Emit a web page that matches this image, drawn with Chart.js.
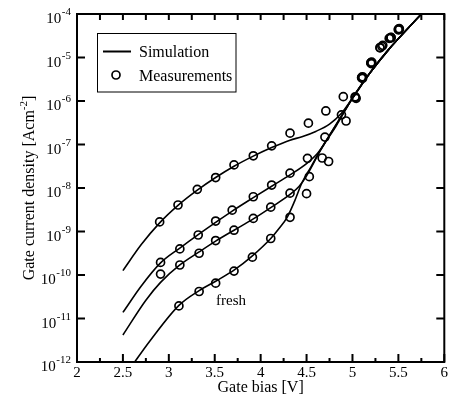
<!DOCTYPE html>
<html>
<head>
<meta charset="utf-8">
<title>Gate current density vs gate bias</title>
<script src="https://cdn.jsdelivr.net/npm/chart.js@4.4.1/dist/chart.umd.min.js"></script>
<style>
  html, body { margin: 0; padding: 0; background: #fff; }
  #wrap { width: 450px; height: 399px; }
</style>
</head>
<body>
<div id="wrap"><canvas id="gateChart" width="450" height="399"></canvas></div>
<script>
// axis ticks
const xMajorTicks = [2, 2.5, 3, 3.5, 4, 4.5, 5, 5.5, 6];
const xMinorTicks = [2.25, 2.75, 3.25, 3.75, 4.25, 4.75, 5.25, 5.75];
const yDecades = [-12, -11, -10, -9, -8, -7, -6, -5, -4];

// simulated curves (gate bias [V], current density [A/cm^2])
const simStress3V = [2.50, 2.70, 2.90, 3.10, 3.31, 3.51, 3.71, 3.92, 4.12, 4.32, 4.45, 4.60, 4.75, 4.88, 5.00, 5.20, 5.40, 5.60, 5.76];
const simStress3J = [1.26e-10, 5.0e-10, 1.58e-9, 3.98e-9, 8.9e-9, 1.74e-8, 3.16e-8, 5.4e-8, 8.5e-8, 1.26e-7, 1.51e-7, 2.0e-7, 2.95e-7, 5.25e-7, 1.17e-6, 4.68e-6, 1.58e-5, 4.57e-5, 1.05e-4];

const simStress2V = [2.50, 2.70, 2.91, 3.12, 3.32, 3.51, 3.69, 3.92, 4.12, 4.32, 4.51, 4.62, 4.72, 4.82, 5.00, 5.20, 5.40, 5.60, 5.76];
const simStress2J = [1.38e-11, 5.6e-11, 1.9e-10, 4.17e-10, 8.5e-10, 1.62e-9, 2.95e-9, 6.0e-9, 1.1e-8, 2.0e-8, 3.8e-8, 6.3e-8, 1.26e-7, 2.63e-7, 1.17e-6, 4.68e-6, 1.58e-5, 4.57e-5, 1.05e-4];

const simStress1V = [2.50, 2.75, 2.91, 3.12, 3.33, 3.51, 3.71, 3.92, 4.11, 4.32, 4.42, 4.50, 4.65, 4.80, 5.00, 5.20, 5.40, 5.60, 5.76];
const simStress1J = [4.17e-12, 2.63e-11, 6.76e-11, 1.7e-10, 3.39e-10, 6.0e-10, 1.07e-9, 1.95e-9, 3.55e-9, 7.1e-9, 1.1e-8, 1.9e-8, 7.2e-8, 2.4e-7, 1.15e-6, 4.68e-6, 1.58e-5, 4.57e-5, 1.05e-4];

const simFreshV = [2.60, 2.80, 3.11, 3.33, 3.51, 3.71, 3.91, 4.11, 4.20, 4.29, 4.37, 4.45, 4.55, 4.65, 4.80, 5.00, 5.20, 5.40, 5.60, 5.76];
const simFreshJ = [8.3e-13, 3.16e-12, 2.0e-11, 4.37e-11, 7.2e-11, 1.29e-10, 2.75e-10, 6.9e-10, 1.17e-9, 2.14e-9, 5.0e-9, 1.32e-8, 3.1e-8, 7.4e-8, 2.4e-7, 1.15e-6, 4.68e-6, 1.58e-5, 4.57e-5, 1.05e-4];

// measured points
const measStress3V = [2.90, 3.10, 3.31, 3.51, 3.71, 3.92, 4.12, 4.32, 4.52, 4.71, 4.90, 5.10, 5.20, 5.30, 5.40, 5.50];
const measStress3J = [1.66e-9, 4.07e-9, 9.3e-9, 1.74e-8, 3.39e-8, 5.5e-8, 9.3e-8, 1.82e-7, 3.09e-7, 5.9e-7, 1.26e-6, 3.5e-6, 7.6e-6, 1.66e-5, 2.75e-5, 4.3e-5];

const measStress2V = [2.91, 3.12, 3.32, 3.51, 3.69, 3.92, 4.12, 4.32, 4.51, 4.70, 5.03, 5.11, 5.21, 5.32, 5.42, 5.51];
const measStress2J = [1.95e-10, 3.98e-10, 8.3e-10, 1.74e-9, 3.09e-9, 6.3e-9, 1.17e-8, 2.19e-8, 4.8e-8, 1.48e-7, 1.2e-6, 3.3e-6, 7.2e-6, 1.8e-5, 2.9e-5, 4.6e-5];

const measStress1V = [2.91, 3.12, 3.33, 3.51, 3.71, 3.92, 4.11, 4.32, 4.53, 4.67, 4.88, 5.04, 5.10, 5.20, 5.33, 5.41, 5.50];
const measStress1J = [1.05e-10, 1.7e-10, 3.16e-10, 6.2e-10, 1.07e-9, 2.0e-9, 3.63e-9, 7.6e-9, 1.82e-8, 4.9e-8, 4.8e-7, 1.15e-6, 3.4e-6, 7.4e-6, 1.9e-5, 2.8e-5, 4.5e-5];

const measFreshV = [3.11, 3.33, 3.51, 3.71, 3.91, 4.11, 4.32, 4.50, 4.74, 4.93, 5.03, 5.11, 5.21, 5.30, 5.42, 5.51];
const measFreshJ = [1.95e-11, 4.17e-11, 6.5e-11, 1.23e-10, 2.57e-10, 6.9e-10, 2.12e-9, 7.4e-9, 4.07e-8, 3.47e-7, 1.25e-6, 3.6e-6, 7.8e-6, 1.7e-5, 2.85e-5, 4.4e-5];

const FONT = '"Liberation Serif", "Times New Roman", serif';

function toPoints(xs, ys) {
  return xs.map((v, i) => ({ x: v, y: ys[i] }));
}

function simLine(xs, ys) {
  return {
    type: "line",
    data: toPoints(xs, ys),
    borderColor: "#000",
    borderWidth: 1.6,
    pointRadius: 0,
    cubicInterpolationMode: "monotone",
    fill: false
  };
}

function measPoints(xs, ys) {
  return {
    type: "scatter",
    data: toPoints(xs, ys),
    showLine: false,
    pointStyle: "circle",
    pointRadius: 4,
    pointBorderWidth: 1.7,
    pointBorderColor: "#000",
    pointBackgroundColor: "rgba(0,0,0,0)"
  };
}

// frame, inward ticks, labels, legend box and note
const frameAndLabels = {
  id: "frameAndLabels",
  afterDraw(chart) {
    const { ctx, chartArea: a, scales } = chart;
    const xs = scales.x;
    const ys = scales.y;
    ctx.save();
    ctx.strokeStyle = "#000";
    ctx.fillStyle = "#000";

    ctx.lineWidth = 2;
    ctx.strokeRect(a.left, a.top, a.right - a.left, a.bottom - a.top);

    ctx.beginPath();
    xMajorTicks.forEach(v => {
      const px = xs.getPixelForValue(v);
      ctx.moveTo(px, a.bottom); ctx.lineTo(px, a.bottom - 8);
      ctx.moveTo(px, a.top); ctx.lineTo(px, a.top + 6);
    });
    xMinorTicks.forEach(v => {
      const px = xs.getPixelForValue(v);
      ctx.moveTo(px, a.bottom); ctx.lineTo(px, a.bottom - 4);
      ctx.moveTo(px, a.top); ctx.lineTo(px, a.top + 6);
    });
    yDecades.forEach(e => {
      const py = ys.getPixelForValue(Math.pow(10, e));
      ctx.moveTo(a.left, py); ctx.lineTo(a.left + 8, py);
      ctx.moveTo(a.right, py); ctx.lineTo(a.right - 8, py);
    });
    ctx.stroke();

    // x tick labels
    ctx.font = "15px " + FONT;
    ctx.textAlign = "center";
    ctx.textBaseline = "alphabetic";
    xMajorTicks.forEach(v => {
      ctx.fillText(String(v), xs.getPixelForValue(v), 377);
    });

    // y tick labels as 10 with raised exponent
    yDecades.forEach(e => {
      const py = ys.getPixelForValue(Math.pow(10, e));
      const expText = String(e);
      ctx.font = "11px " + FONT;
      const expW = ctx.measureText(expText).width;
      ctx.textAlign = "right";
      ctx.fillText(expText, 71, py + 1);
      ctx.font = "15px " + FONT;
      ctx.fillText("10", 71 - expW - 0.5, py + 9);
    });

    // axis titles
    ctx.font = "16px " + FONT;
    ctx.textAlign = "center";
    ctx.fillText("Gate bias [V]", (a.left + a.right) / 2, 392);

    ctx.save();
    ctx.translate(34, (a.top + a.bottom) / 2);
    ctx.rotate(-Math.PI / 2);
    ctx.textAlign = "left";
    const t1 = "Gate current density [Acm";
    const t2 = "-2";
    const t3 = "]";
    ctx.font = "16px " + FONT;
    const w1 = ctx.measureText(t1).width;
    const w3 = ctx.measureText(t3).width;
    ctx.font = "11px " + FONT;
    const w2 = ctx.measureText(t2).width;
    let sx = -(w1 + w2 + w3) / 2;
    ctx.font = "16px " + FONT;
    ctx.fillText(t1, sx, 0);
    sx += w1;
    ctx.font = "11px " + FONT;
    ctx.fillText(t2, sx, -7);
    sx += w2;
    ctx.font = "16px " + FONT;
    ctx.fillText(t3, sx, 0);
    ctx.restore();

    // legend
    ctx.lineWidth = 1;
    ctx.fillStyle = "#fff";
    ctx.fillRect(97.5, 33.5, 138.5, 58.5);
    ctx.strokeRect(97.5, 33.5, 138.5, 58.5);
    ctx.fillStyle = "#000";
    ctx.lineWidth = 2;
    ctx.beginPath();
    ctx.moveTo(103, 51.5); ctx.lineTo(131, 51.5);
    ctx.stroke();
    ctx.lineWidth = 1.7;
    ctx.beginPath();
    ctx.arc(116, 75, 4, 0, Math.PI * 2);
    ctx.stroke();
    ctx.font = "16px " + FONT;
    ctx.textAlign = "left";
    ctx.fillText("Simulation", 139, 57);
    ctx.fillText("Measurements", 139, 80.5);

    // unstressed curve note
    ctx.font = "15px " + FONT;
    ctx.fillText("fresh", 216, 305);

    ctx.restore();
  }
};

new Chart(document.getElementById("gateChart"), {
  type: "scatter",
  data: {
    datasets: [
      simLine(simStress3V, simStress3J),
      simLine(simStress2V, simStress2J),
      simLine(simStress1V, simStress1J),
      simLine(simFreshV, simFreshJ),
      measPoints(measStress3V, measStress3J),
      measPoints(measStress2V, measStress2J),
      measPoints(measStress1V, measStress1J),
      measPoints(measFreshV, measFreshJ)
    ]
  },
  options: {
    responsive: false,
    animation: false,
    events: [],
    layout: { padding: { left: 77, right: 4, top: 14, bottom: 37 } },
    plugins: { legend: { display: false }, tooltip: { enabled: false } },
    scales: {
      x: { type: "linear", min: 2, max: 6, display: false },
      y: { type: "logarithmic", min: 1e-12, max: 1e-4, display: false }
    }
  },
  plugins: [frameAndLabels]
});
</script>
</body>
</html>
